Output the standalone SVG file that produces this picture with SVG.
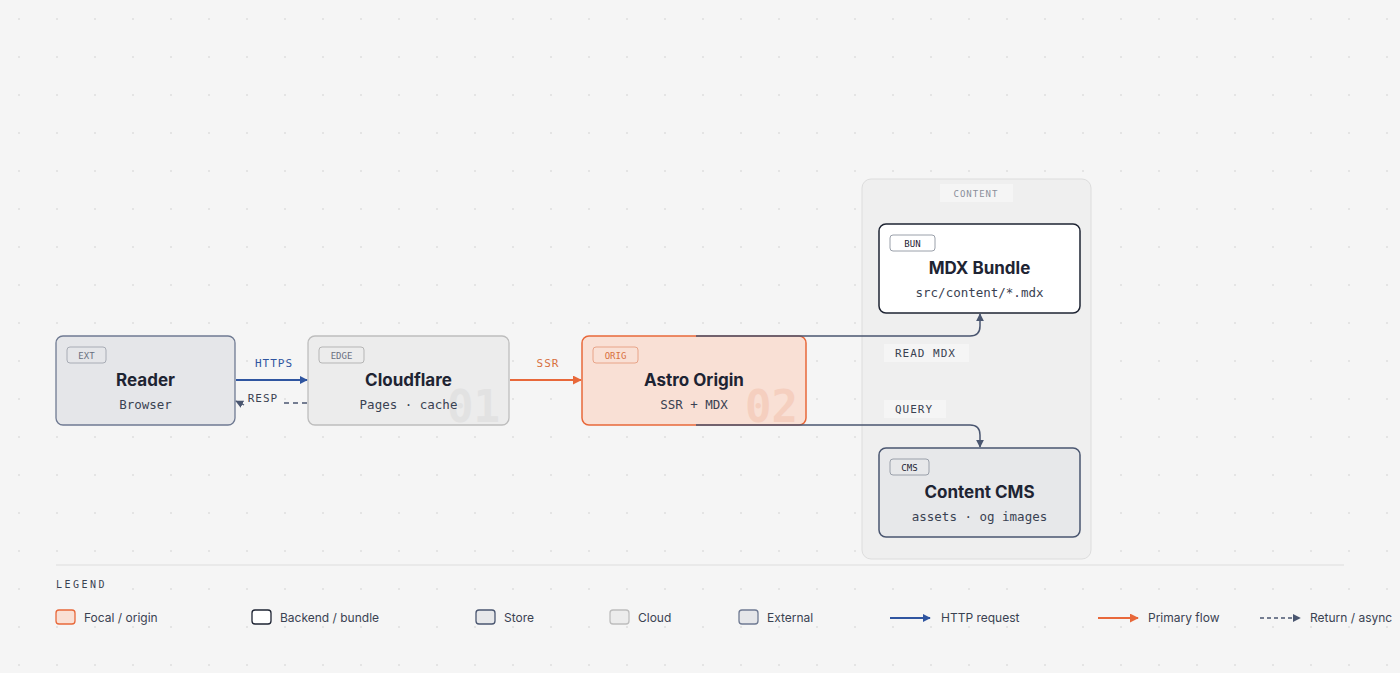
<svg xmlns="http://www.w3.org/2000/svg" width="1400" height="673" viewBox="0 0 1400 673">
<defs>
<pattern id="dots" width="38" height="38" patternUnits="userSpaceOnUse"><circle cx="19" cy="19" r="0.9" fill="#dcdcdc"/></pattern>
<marker id="aB" viewBox="0 0 10 10" refX="9" refY="5" markerWidth="8" markerHeight="8" markerUnits="userSpaceOnUse" orient="auto"><path d="M0,0L10,5L0,10z" fill="#2f55a0"/></marker>
<marker id="aO" viewBox="0 0 10 10" refX="9" refY="5" markerWidth="9" markerHeight="9" markerUnits="userSpaceOnUse" orient="auto"><path d="M0,0L10,5L0,10z" fill="#e8683a"/></marker>
<marker id="aG" viewBox="0 0 10 10" refX="9" refY="5" markerWidth="8" markerHeight="8" markerUnits="userSpaceOnUse" orient="auto"><path d="M0,0L10,5L0,10z" fill="#4a5670"/></marker>
<style>
.t{font-family:Inter,"Liberation Sans",sans-serif;font-weight:700;font-size:17px;fill:#1e2433;text-anchor:middle}
.s{font-family:"DejaVu Sans Mono","Liberation Mono",monospace;font-size:12.5px;fill:#3a4252;text-anchor:middle}
.tag{font-family:"DejaVu Sans Mono","Liberation Mono",monospace;font-size:9px;fill:#6a7080;text-anchor:middle}
.lbl{font-family:"DejaVu Sans Mono","Liberation Mono",monospace;font-size:11px;letter-spacing:1px;fill:#3a4252}
.lg{font-family:Inter,"Liberation Sans",sans-serif;font-size:12px;fill:#3a4252}
.num{font-family:"DejaVu Sans Mono","Liberation Mono",monospace;font-size:44px;font-weight:700;text-anchor:end}
</style>
</defs>
<rect width="1400" height="673" fill="#f5f5f5"/>
<rect width="1400" height="673" fill="url(#dots)"/>
<g id="group-content">
<rect x="862" y="179" width="229" height="380" rx="9" fill="#efefef" stroke="#dddddd"/>
<rect x="940" y="184" width="73" height="18" fill="#f5f5f5"/>
<text x="976" y="197" class="tag" style="letter-spacing:1px;fill:#8a8f9a">CONTENT</text>
</g>
<g id="reader">
<rect x="56" y="336" width="179" height="89" rx="7" fill="#e5e6e9" stroke="#6f7a92" stroke-width="1.3"/>
<rect x="67" y="347" width="39" height="16" rx="3" fill="none" stroke="#a8acb5"/>
<text x="86.5" y="359" class="tag">EXT</text>
<text x="145.5" y="386" class="t">Reader</text>
<text x="145.5" y="409" class="s">Browser</text>
</g>
<g id="cloudflare">
<rect x="308" y="336" width="201" height="89" rx="7" fill="#ececec" stroke="#bdbdbd" stroke-width="1.3"/>
<text x="500" y="422" class="num" fill="#e2e2e2">01</text>
<rect x="319" y="347" width="45" height="16" rx="3" fill="none" stroke="#b5b5b5"/>
<text x="341.5" y="359" class="tag">EDGE</text>
<text x="408.5" y="386" class="t">Cloudflare</text>
<text x="408.5" y="409" class="s">Pages · cache</text>
</g>
<g id="astro">
<rect x="582" y="336" width="224" height="89" rx="7" fill="#f9e0d5" stroke="#e8683a" stroke-width="1.5"/>
<text x="798" y="422" class="num" fill="#f5cfbf">02</text>
<rect x="593" y="347" width="45" height="16" rx="3" fill="none" stroke="#e8a488"/>
<text x="615.5" y="359" class="tag" style="fill:#d8703f">ORIG</text>
<text x="694" y="386" class="t">Astro Origin</text>
<text x="694" y="409" class="s">SSR + MDX</text>
</g>
<g id="mdx">
<rect x="879" y="224" width="201" height="89" rx="7" fill="#ffffff" stroke="#1e2433" stroke-width="1.5"/>
<rect x="890" y="235" width="45" height="16" rx="3" fill="none" stroke="#9aa0aa"/>
<text x="912.5" y="247" class="tag" style="fill:#1e2433">BUN</text>
<text x="979.5" y="274" class="t">MDX Bundle</text>
<text x="979.5" y="297" class="s">src/content/*.mdx</text>
</g>
<g id="cms">
<rect x="879" y="448" width="201" height="89" rx="7" fill="#e7e8ea" stroke="#4a5670" stroke-width="1.5"/>
<rect x="890" y="459" width="39" height="16" rx="3" fill="none" stroke="#9aa0aa"/>
<text x="909.5" y="471" class="tag" style="fill:#1e2433">CMS</text>
<text x="979.5" y="498" class="t">Content CMS</text>
<text x="979.5" y="521" class="s">assets · og images</text>
</g>
<g id="connectors" fill="none">
<path d="M236,380 H307" stroke="#2f55a0" stroke-width="2" marker-end="url(#aB)"/>
<text x="274" y="367" class="lbl" text-anchor="middle" style="fill:#2f55a0">HTTPS</text>
<path d="M307,403 H284" stroke="#4a5670" stroke-width="1.3" stroke-dasharray="5,4"/>
<path d="M244,405 L236,401" stroke="#4a5670" stroke-width="1.3" marker-end="url(#aG)"/>
<rect x="245" y="390" width="36" height="15" fill="#f5f5f5"/>
<text x="263" y="402" class="lbl" text-anchor="middle">RESP</text>
<path d="M510,380 H581" stroke="#e8683a" stroke-width="2" marker-end="url(#aO)"/>
<text x="548" y="367" class="lbl" text-anchor="middle" style="fill:#d8703f">SSR</text>
<path d="M696,336 H970 Q980,336 980,326 V314" stroke="#4a5670" stroke-width="1.5" marker-end="url(#aG)"/>
<rect x="884" y="344" width="85" height="18" fill="#f5f5f5"/>
<text x="895" y="357" class="lbl">READ MDX</text>
<path d="M696,425 H970 Q980,425 980,435 V447" stroke="#4a5670" stroke-width="1.5" marker-end="url(#aG)"/>
<rect x="884" y="400" width="62" height="18" fill="#f5f5f5"/>
<text x="895" y="413" class="lbl">QUERY</text>
</g>
<g id="legend">
<line x1="56" y1="565" x2="1344" y2="565" stroke="#dddddd"/>
<text x="56" y="588" class="lbl" style="font-size:10px;letter-spacing:2.5px">LEGEND</text>
<rect x="56" y="610" width="19" height="14" rx="3" fill="#f9e0d5" stroke="#e8683a" stroke-width="1.3"/>
<text x="84" y="622" class="lg">Focal / origin</text>
<rect x="252" y="610" width="19" height="14" rx="3" fill="#fff" stroke="#1e2433" stroke-width="1.3"/>
<text x="280" y="622" class="lg">Backend / bundle</text>
<rect x="476" y="610" width="19" height="14" rx="3" fill="#e7e8ea" stroke="#4a5670" stroke-width="1.3"/>
<text x="504" y="622" class="lg">Store</text>
<rect x="610" y="610" width="19" height="14" rx="3" fill="#ececec" stroke="#bdbdbd" stroke-width="1.3"/>
<text x="638" y="622" class="lg">Cloud</text>
<rect x="739" y="610" width="19" height="14" rx="3" fill="#e5e6e9" stroke="#6f7a92" stroke-width="1.3"/>
<text x="767" y="622" class="lg">External</text>
<path d="M890,618 H930" stroke="#2f55a0" stroke-width="2" marker-end="url(#aB)"/>
<text x="941" y="622" class="lg">HTTP request</text>
<path d="M1098,618 H1138" stroke="#e8683a" stroke-width="2" marker-end="url(#aO)"/>
<text x="1148" y="622" class="lg">Primary flow</text>
<path d="M1260,618 H1300" stroke="#4a5670" stroke-width="1.3" stroke-dasharray="4,3" marker-end="url(#aG)"/>
<text x="1310" y="622" class="lg">Return / async</text>
</g>
</svg>
